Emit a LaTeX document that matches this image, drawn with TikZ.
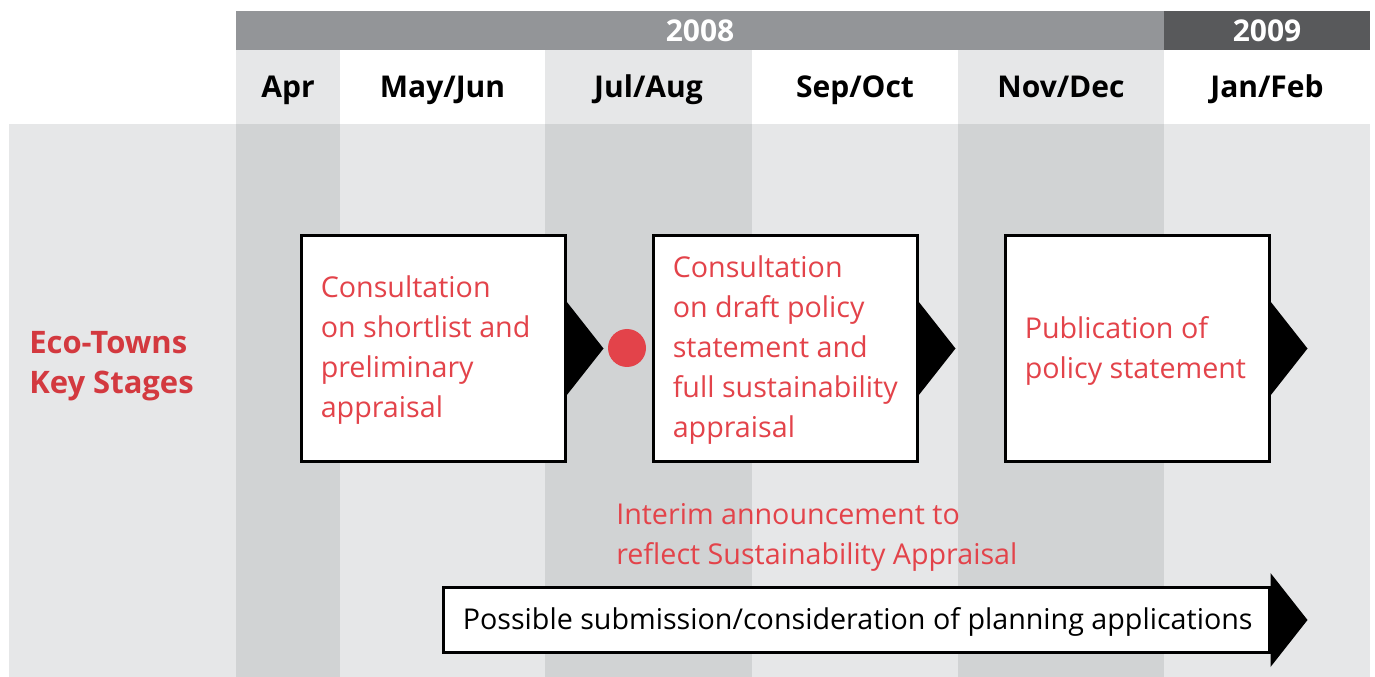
\documentclass[tikz,border=0pt]{standalone}
\usepackage{fontspec}
\setmainfont{Open Sans}
\usetikzlibrary{positioning}
\definecolor{ecored}{HTML}{E3434A}
\definecolor{ecodeep}{HTML}{D3393F}
\definecolor{bandlight}{HTML}{E6E7E8}
\definecolor{banddark}{HTML}{D1D3D4}
\definecolor{yeargrey}{HTML}{939598}
\definecolor{yeardark}{HTML}{58595B}
\tikzset{
    month/.style={anchor=base, inner sep=0pt, font=\bfseries\fontsize{22.5}{27}\selectfont},
    year/.style={month, text=white},
    stagebox/.style={draw=black, line width=2.25pt, fill=white, inner sep=0pt,
        minimum width=198pt, minimum height=169.5pt},
    stagetext/.style={text=ecored, align=left, inner sep=0pt, yshift=-1.5pt, font=\fontsize{21.5}{30}\selectfont},
    planbox/.style={stagebox, minimum width=619.5pt, minimum height=48.75pt},
    plantext/.style={stagetext, text=black},
    keydot/.style={circle, fill=ecored, minimum size=28.5pt, inner sep=0pt}
}
\begin{document}
\begin{tikzpicture}[x=0.75pt, y=-0.75pt]
    \useasboundingbox (0,0) rectangle (1375,677);
    \def \yb {11}
    \def \ym {50}
    \def \yt {124}
    \def \yl {677}
    % bands
    \fill[bandlight] (9,\yt) rectangle (1370,\yl);
    \foreach \xa/\xb in {236/340, 545/752, 958/1164}{
        \fill[banddark] (\xa,\yt) rectangle (\xb,\yl);
        \fill[bandlight] (\xa,\ym) rectangle (\xb,\yt);
    }
    \fill[yeargrey] (236,\yb) rectangle (1164,\ym);
    \fill[yeardark] (1164,\yb) rectangle (1370,\ym);
    \node[year] (y2008) at (700,41.5) {2008};
    \node[year] (y2009) at (1267,41.5) {2009};
    \node[month] (apr) at (288,98) {Apr};
    \node[month] (mayjun) at (442.5,98) {May/Jun};
    \node[month] (julaug) at (648.5,98) {Jul/Aug};
    \node[month] (sepoct) at (855,98) {Sep/Oct};
    \node[month] (novdec) at (1061,98) {Nov/Dec};
    \node[month] (janfeb) at (1267,98) {Jan/Feb};
    % key stages
    \node[stagetext, anchor=west, text=ecodeep, font=\bfseries\fontsize{23.25}{30}\selectfont] (key) at (29,364) {Eco-Towns\\Key Stages};
    \node[stagebox] (s1) at (433,348.5) {};
    \node[stagebox] (s2) at (785,348.5) {};
    \node[stagebox] (s3) at (1137,348.5) {};
    \node[stagetext, right=15.75pt of s1.west] (s1t) {Consultation\\on shortlist and\\preliminary\\appraisal};
    \node[stagetext, right=15.75pt of s2.west] (s2t) {Consultation\\on draft policy\\statement and\\full sustainability\\appraisal};
    \node[stagetext, right=15.75pt of s3.west] (s3t) {Publication of\\policy statement};
    \node[keydot] (mid) at (627,348) {};
    \node[stagetext, anchor=west] (interim) at (616,535) {Interim announcement to\\reflect Sustainability Appraisal};
    \node[planbox] (plan) at (856,620) {};
    \node[plantext, right=15.75pt of plan.west] (plant) {Possible submission/consideration of planning applications};
    \foreach \n in {s1,s2,s3,plan}
        \fill (\n.east) ++(0,-47) -- ++(37,47) -- ++(-37,47) -- cycle;
\end{tikzpicture}
\end{document}
